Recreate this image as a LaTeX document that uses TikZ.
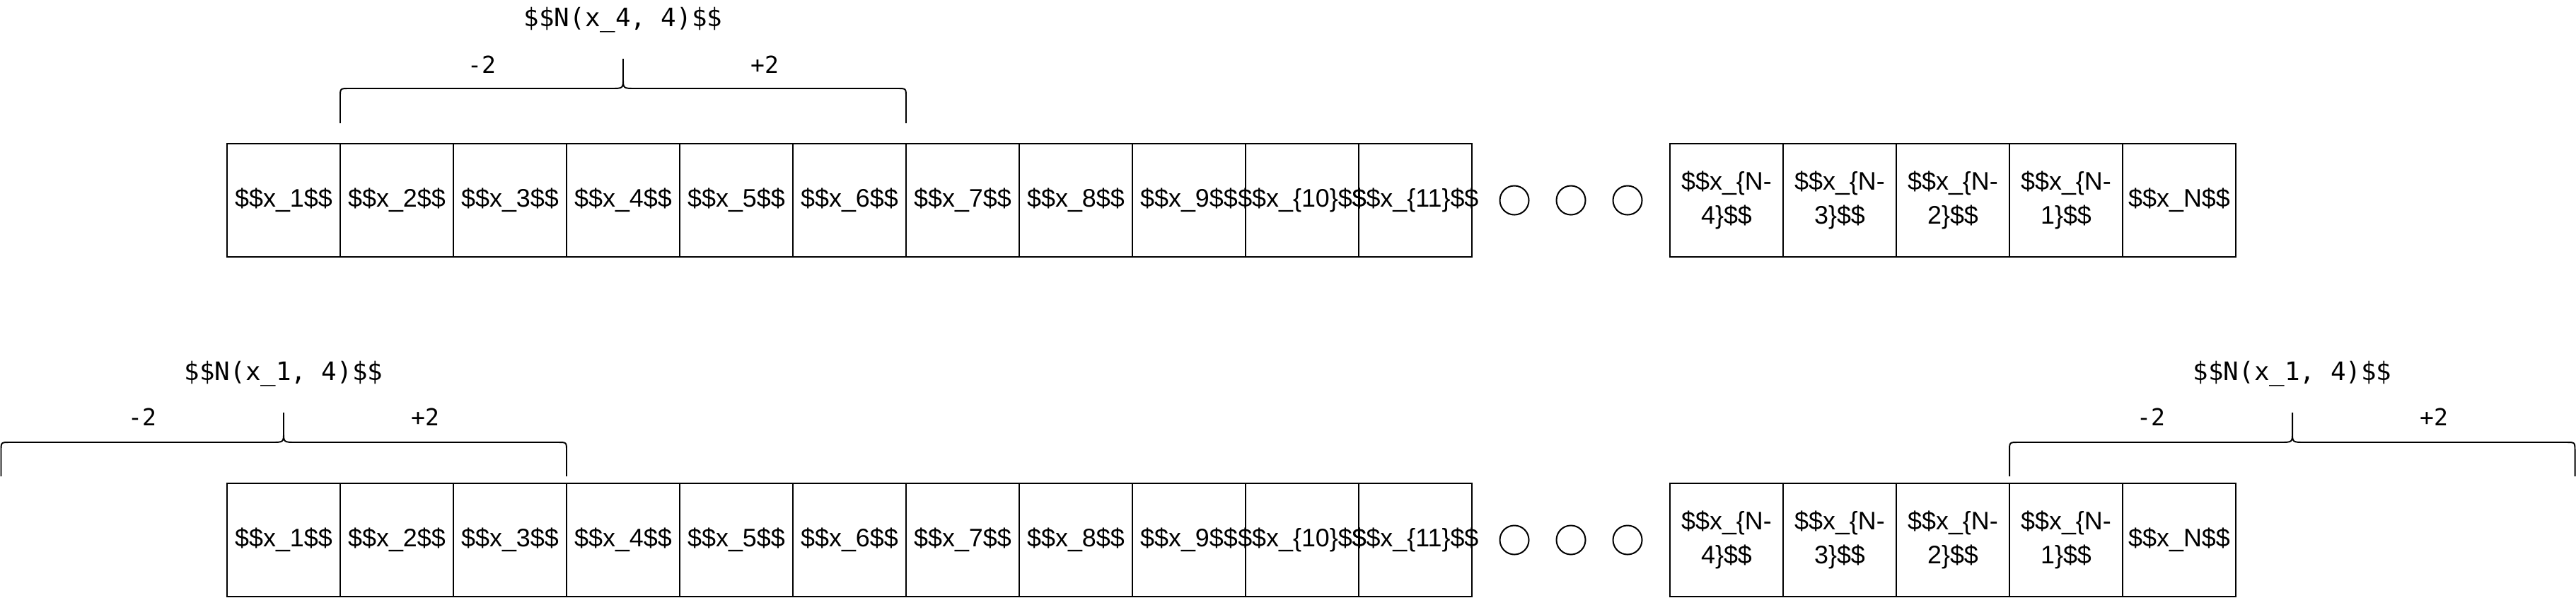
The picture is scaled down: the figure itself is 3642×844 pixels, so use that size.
\documentclass[tikz,border=0pt]{standalone}
\usepackage{fontspec}
\setmainfont{Liberation Sans}
\newfontfamily\monofont{DejaVu Sans Mono}
\def\windowbrace[#1](#2,#3)(#4:#5:#6:#7)% Syntax: [draw options] (left x,right x) (centre x:foot y:level y:tip y)
    { \draw[#1] (#4,#7) -- (#4,#6-14) .. controls (#4,#6) .. (#4-18,#6) -- (#2+12,#6) .. controls (#2,#6) .. (#2,#6+12) -- (#2,#5)
                (#4,#7) -- (#4,#6-14) .. controls (#4,#6) .. (#4+18,#6) -- (#3-12,#6) .. controls (#3,#6) .. (#3,#6+12) -- (#3,#5); }

\begin{document}
\begin{tikzpicture}[x=0.01cm, y=-0.01cm, line width=0.57pt,
    cell/.style={draw, minimum size=1.6cm, inner sep=0pt, align=center, font=\fontsize{10.2}{13.6}\selectfont},
    gapdot/.style={draw, circle, minimum size=0.41cm, inner sep=0pt},
    windowtitle/.style={inner sep=0pt, font=\monofont\fontsize{10.2}{12}\selectfont},
    offsetlabel/.style={inner sep=0pt, font=\monofont\fontsize{9.4}{11}\selectfont},
    bracepath/.style={line width=0.55pt, line join=round}]
   \useasboundingbox (0,0) rectangle (3642,844);

   % the two rows of the sequence
   \foreach \r/\y in {t/283, b/763} {
     \foreach \i in {1,...,11}
       \node[cell] (\r\i) at (241+160*\i,\y) {\makebox[0pt]{\$\$x\_\ifnum\i<10 \i\else\{\i\}\fi\$\$}};
     \foreach \j in {1,2,3}
       \node[gapdot] (\r dot\j) at (2061+80*\j,\y) {};
     \foreach \m in {4,3,2,1}
       \node[cell] (\r m\m) at (3081-160*\m,\y) {\$\$x\_\{N-\\\m\}\$\$};
     \node[cell] (\r N) at (3081,\y) {\$\$x\_N\$\$};
   }

   % window round x_4
   \windowbrace[bracepath](481,1281)(881:174:125:83)
   \node[windowtitle] (top title) at (881,28) {\$\$N(x\_4, 4)\$\$};
   \node[offsetlabel] (top minus) at (681,91) {-2};
   \node[offsetlabel] (top plus) at (1081,91) {+2};

   % window round x_1
   \windowbrace[bracepath](1.5,801)(401:673:625:583)
   \node[windowtitle] (left title) at (401,528) {\$\$N(x\_1, 4)\$\$};
   \node[offsetlabel] (left minus) at (201,589) {-2};
   \node[offsetlabel] (left plus) at (601,589) {+2};

   % window at the end
   \windowbrace[bracepath](2841,3640.5)(3241:673:625:583)
   \node[windowtitle] (right title) at (3241,528) {\$\$N(x\_1, 4)\$\$};
   \node[offsetlabel] (right minus) at (3041,589) {-2};
   \node[offsetlabel] (right plus) at (3441,589) {+2};
\end{tikzpicture}
\end{document}
